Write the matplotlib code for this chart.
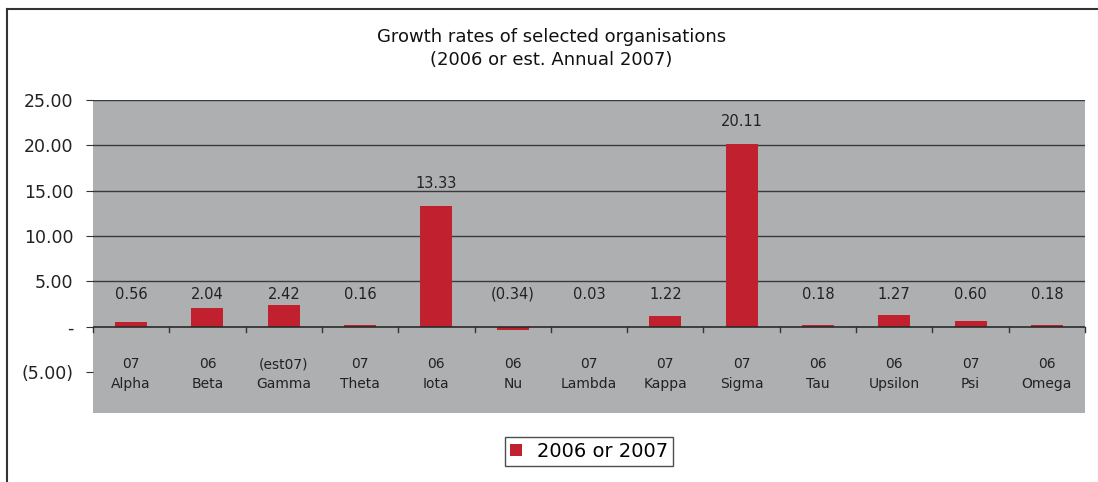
import matplotlib.pyplot as plt
from matplotlib.lines import Line2D
from matplotlib.patches import Patch

plt.rcParams['font.family'] = ['DejaVu Sans']

# data
orgs = ['Alpha', 'Beta', 'Gamma', 'Theta', 'Iota', 'Nu', 'Lambda',
        'Kappa', 'Sigma', 'Tau', 'Upsilon', 'Psi', 'Omega']
years = ['07', '06', '(est07)', '07', '06', '06', '07',
         '07', '07', '06', '06', '07', '06']
growth = [0.56, 2.04, 2.42, 0.16, 13.33, -0.34, 0.03,
          1.22, 20.11, 0.18, 1.27, 0.60, 0.18]
yticks = [-5, 0, 5, 10, 15, 20, 25]
yticklabels = ['(5.00)', '-', '5.00', '10.00', '15.00', '20.00', '25.00']

bar_col = '#C1202F'
bg_col = '#AEAFB1'

fig = plt.figure(figsize=(10.98, 4.82), dpi=100)
ax = fig.add_axes([0.0847, 0.1432, 0.9035, 0.6493])
ax.set_facecolor(bg_col)

x = list(range(len(orgs)))
ax.bar(x, growth, width=0.42, color=bar_col, zorder=3)

ax.set_xlim(-0.5, len(orgs) - 0.5)
ax.set_ylim(-9.5, 25)

# gridlines
for g in [5, 10, 15, 20, 25]:
    ax.axhline(g, color='#3a3a3a', lw=1.0, zorder=1)
ax.axhline(0, color='#2a2a2a', lw=1.2, zorder=4)

for s in ax.spines.values():
    s.set_visible(False)

ax.set_yticks(yticks)
ax.set_yticklabels(yticklabels, fontsize=12.5, color='#222222')
ax.tick_params(axis='y', length=5, pad=9, color='#333333', direction='out')
ax.set_xticks([])

# category boundary ticks below zero line
for b in [i - 0.5 for i in range(len(orgs) + 1)]:
    ax.plot([b, b], [0, -0.6], color='#333333', lw=1.0, zorder=4, clip_on=False)

# category labels
for i, (yr, nm) in enumerate(zip(years, orgs)):
    ax.text(i, -5.2, yr + '\n' + nm, ha='center', va='center',
            fontsize=10, color='#222222', linespacing=1.5)

# value labels
for i, v in enumerate(growth):
    txt = '(%.2f)' % abs(v) if v < 0 else '%.2f' % v
    ypos = v + 2.0 if v > 5 else 3.1
    ax.text(i, ypos, txt, ha='center', va='baseline',
            fontsize=10.5, color='#222222', zorder=5)

fig.text(0.502, 0.899, 'Growth rates of selected organisations\n(2006 or est. Annual 2007)',
         ha='center', va='center', fontsize=13, linespacing=1.35, color='#111111')

handle = Patch(facecolor=bar_col, edgecolor='none')
leg = fig.legend([handle], ['2006 or 2007'], loc='center', bbox_to_anchor=(0.5365, 0.0635),
                 fontsize=14, frameon=True, fancybox=False, handlelength=0.6,
                 handleheight=0.6, handletextpad=0.8, borderpad=0.25, borderaxespad=0)
leg.get_frame().set_edgecolor('#222222')
leg.get_frame().set_linewidth(1.0)

# outer frame (top and left edges visible)
fig.add_artist(Line2D([7 / 1098, 1.0], [1 - 9 / 482, 1 - 9 / 482], color='#333333', lw=1.5))
fig.add_artist(Line2D([7 / 1098, 7 / 1098], [0, 1 - 9 / 482], color='#333333', lw=1.5))

fig.savefig('out.png', dpi=100)
